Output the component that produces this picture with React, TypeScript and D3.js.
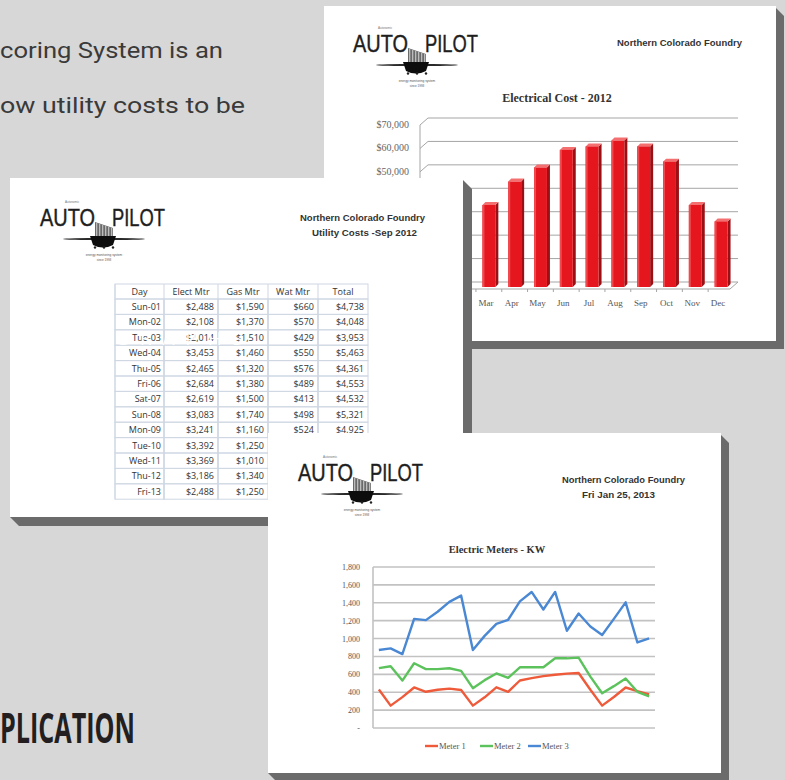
import React from 'react';
import * as d3 from 'd3';

// ---------- DATA ----------
const months = ['Mar', 'Apr', 'May', 'Jun', 'Jul', 'Aug', 'Sep', 'Oct', 'Nov', 'Dec'];
const electricCost = [35000, 45000, 51000, 58500, 60000, 62500, 60000, 53500, 35000, 28000];
const costTicks = [0, 10000, 20000, 30000, 40000, 50000, 60000, 70000];

const tableHeaders = ['Day', 'Elect Mtr', 'Gas Mtr', 'Wat Mtr', 'Total'];
const days = ['Sun-01', 'Mon-02', 'Tue-03', 'Wed-04', 'Thu-05', 'Fri-06', 'Sat-07', 'Sun-08', 'Mon-09', 'Tue-10', 'Wed-11', 'Thu-12', 'Fri-13'];
const electMtr = [2488, 2108, 2014, 3453, 2465, 2684, 2619, 3083, 3241, 3392, 3369, 3186, 2488];
const gasMtr = [1590, 1370, 1510, 1460, 1320, 1380, 1500, 1740, 1160, 1250, 1010, 1340, 1250];
const watMtr = [660, 570, 429, 550, 576, 489, 413, 498, 524];
const totals = [4738, 4048, 3953, 5463, 4361, 4553, 4532, 5321, 4925];

const meter1 = [430, 250, 345, 453, 405, 427, 440, 425, 250, 343, 455, 405, 531, 557, 580, 595, 608, 615, 427, 250, 347, 453, 412, 375];
const meter2 = [670, 690, 530, 724, 658, 658, 668, 638, 445, 535, 610, 560, 679, 679, 679, 779, 779, 787, 575, 388, 468, 553, 405, 353];
const meter3 = [872, 890, 826, 1220, 1206, 1300, 1410, 1480, 872, 1030, 1165, 1210, 1415, 1521, 1325, 1521, 1087, 1280, 1135, 1039, 1220, 1405, 957, 1002];
const meterNames = ['Meter 1', 'Meter 2', 'Meter 3'];
const meterColors = ['#ee5a3a', '#5cc25c', '#4a88d4'];
const kwTicks = [0, 200, 400, 600, 800, 1000, 1200, 1400, 1600, 1800];

const SANS = 'Liberation Sans, Arial, sans-serif';
const SERIF = 'Liberation Serif, Times New Roman, serif';
const CARD_B_TOP = 178;

// ---------- PIECES ----------
function Card({ x0, y0, x1, y1, d }: { x0: number; y0: number; x1: number; y1: number; d: number }) {
  const shadow = `${x1},${y0 + 2} ${x1 + d},${y0 + 2 + d} ${x1 + d},${y1 + d} ${x0 + d},${y1 + d} ${x0},${y1}`;
  return (
    <g>
      <polygon points={shadow} fill="#6b6b6b" />
      <rect x={x0} y={y0} width={x1 - x0} height={y1 - y0} fill="#ffffff" />
    </g>
  );
}

function Logo({ x, y }: { x: number; y: number }) {
  const stripes = d3.range(0, 18, 3);
  return (
    <g transform={`translate(${x},${y})`}>
      <text x={25} y={-23} fontFamily={SANS} fontSize={3} fill="#777">Autonomic</text>
      <text x={0} y={0} fontFamily={SANS} fontSize={23} textLength={55} lengthAdjust="spacingAndGlyphs" fill="#1e1e1e" stroke="#1e1e1e" strokeWidth={0.4}>AUTO</text>
      <polygon points="55,-4 73,2 73,12 55,12" fill="#6a6a6a" />
      {stripes.map((s) => (
        <rect key={s} x={56 + s} y={-3 + s / 3} width={1.3} height={14 - s / 3} fill="#bcbcbc" />
      ))}
      <text x={72} y={0} fontFamily={SANS} fontSize={23} textLength={53} lengthAdjust="spacingAndGlyphs" fill="#1e1e1e" stroke="#1e1e1e" strokeWidth={0.4}>PILOT</text>
      <ellipse cx={64} cy={13} rx={41} ry={1.1} fill="#2a2a2a" />
      <path d="M50,10 L76,10 L73,19 Q63,24 53,19 Z" fill="#0d0d0d" />
      <circle cx={55} cy={21.5} r={1.2} fill="#222" />
      <circle cx={64} cy={21.5} r={1.2} fill="#222" />
      <circle cx={73} cy={21.5} r={1.2} fill="#222" />
      <text x={64} y={30} textAnchor="middle" fontFamily={SANS} fontSize={3.2} fill="#555">energy monitoring system</text>
      <text x={64} y={35} textAnchor="middle" fontFamily={SANS} fontSize={3} fill="#555">since 1993</text>
    </g>
  );
}

function BarChart() {
  const yBack = d3.scaleLinear().domain([0, 70000]).range([282, 118]);
  const x = d3.scaleBand().domain(months).range([476, 734]).paddingInner(0.5).paddingOuter(0.25);
  const dx = -8, dy = 7;
  const fmt = d3.format('$,');
  const bw = x.bandwidth();
  return (
    <g>
      <text x={557} y={102} textAnchor="middle" fontFamily={SERIF} fontWeight={700} fontSize={12} fill="#333">Electrical Cost - 2012</text>
      {costTicks.map((v) => (
        <g key={v}>
          <line x1={428} x2={738} y1={yBack(v)} y2={yBack(v)} stroke="#a5a5a5" strokeWidth={1} />
          <line x1={428 + dx} x2={428} y1={yBack(v) + dy} y2={yBack(v)} stroke="#a5a5a5" strokeWidth={1} />
          {yBack(v) + dy + 3 < CARD_B_TOP ? (
            <text x={409} y={yBack(v) + dy + 3} textAnchor="end" fontFamily={SERIF} fontSize={10} fill="#666">{fmt(v)}</text>
          ) : null}
        </g>
      ))}
      <line x1={428 + dx} x2={428 + dx} y1={yBack(70000) + dy} y2={yBack(0) + dy} stroke="#a5a5a5" />
      <line x1={428 + dx} x2={738 + dx} y1={yBack(0) + dy} y2={yBack(0) + dy} stroke="#a5a5a5" />
      <line x1={738 + dx} x2={738} y1={yBack(0) + dy} y2={yBack(0)} stroke="#a5a5a5" />
      {months.map((m, i) => {
        const x0 = (x(m) as number);
        const x1 = x0 + bw;
        const top = yBack(electricCost[i]) + 5;
        const bottom = yBack(0) + 5;
        return (
          <g key={m}>
            <line x1={x0 - 6.5} x2={x0 - 6.5} y1={yBack(0) + dy} y2={yBack(0) + dy + 3} stroke="#a5a5a5" />
            <polygon points={`${x1},${top} ${x1 + 3},${top - 3} ${x1 + 3},${bottom - 3} ${x1},${bottom}`} fill="#9a1015" />
            <polygon points={`${x0},${top} ${x0 + 3},${top - 3} ${x1 + 3},${top - 3} ${x1},${top}`} fill="#f47070" />
            <rect x={x0} y={top} width={bw} height={bottom - top} fill="#e5161d" />
            <rect x={x0} y={top} width={2} height={bottom - top} fill="#f0494e" />
            <text x={x0 + bw / 2 - 3} y={306} textAnchor="middle" fontFamily={SERIF} fontSize={9} fill="#555">{m}</text>
          </g>
        );
      })}
    </g>
  );
}

function Table() {
  const colX = [115, 164, 218, 268, 318, 368];
  const top = 284, headH = 15, rowH = 15.4;
  const money = d3.format('$,');
  const cols = [electMtr, gasMtr, watMtr, totals];
  return (
    <g fontFamily="Open Sans, Liberation Sans, sans-serif" fontSize={9} fill="#333">
      <rect x={colX[0]} y={top} width={colX[5] - colX[0]} height={headH} fill="#ffffff" stroke="#cfd7e3" />
      {tableHeaders.map((h, j) => (
        <text key={h} x={(colX[j] + colX[j + 1]) / 2} y={top + 11} textAnchor="middle">{h}</text>
      ))}
      {days.map((d, i) => {
        const y0 = top + headH + i * rowH;
        return (
          <g key={d}>
            {colX.slice(0, 5).map((cx, j) => {
              const has = j < 3 || i < watMtr.length;
              return has ? (
                <rect key={j} x={cx} y={y0} width={colX[j + 1] - cx} height={rowH} fill="none" stroke="#cfd7e3" strokeWidth={1} />
              ) : null;
            })}
            <text x={colX[1] - 3} y={y0 + 11} textAnchor="end">{d}</text>
            {cols.map((c, j) =>
              i < c.length ? (
                <text key={j} x={colX[j + 2] - 4} y={y0 + 11} textAnchor="end">{money(c[i])}</text>
              ) : null
            )}
          </g>
        );
      })}
      {colX.slice(0, 5).map((cx, j) => (
        <line key={j} x1={cx} x2={cx} y1={top} y2={top + headH + (j < 3 ? days.length : watMtr.length) * rowH} stroke="#cfd7e3" />
      ))}
    </g>
  );
}

function LineChart() {
  const idx = d3.range(meter1.length);
  const x = d3.scalePoint<number>().domain(idx).range([373, 655]).padding(0.5);
  const y = d3.scaleLinear().domain([0, 1800]).range([728, 567]);
  const fmt = d3.format(',');
  const line = d3.line<number>().x((_, i) => x(i) as number).y((v) => y(v));
  const series = [meter1, meter2, meter3];
  const legendX = [425, 480, 528];
  return (
    <g>
      <text x={497} y={553} textAnchor="middle" fontFamily={SERIF} fontWeight={700} fontSize={10.5} fill="#333">Electric Meters - KW</text>
      {kwTicks.map((v) => (
        <g key={v}>
          <line x1={373} x2={655} y1={y(v)} y2={y(v)} stroke="#c2c2c2" strokeWidth={1.6} />
          <text x={360} y={y(v) + 3} textAnchor="end" fontFamily={SERIF} fontSize={8} fill="#555">{v === 0 ? '-' : fmt(v)}</text>
        </g>
      ))}
      <line x1={373} x2={373} y1={y(1800)} y2={y(0)} stroke="#c2c2c2" strokeWidth={1.6} />
      {series.map((s, k) => (
        <path key={k} d={line(s) as string} fill="none" stroke={meterColors[k]} strokeWidth={2.4} strokeLinejoin="round" />
      ))}
      {meterNames.map((n, k) => (
        <g key={n}>
          <line x1={legendX[k]} x2={legendX[k] + 13} y1={746} y2={746} stroke={meterColors[k]} strokeWidth={2.4} />
          <text x={legendX[k] + 14} y={749} fontFamily={SERIF} fontSize={8.5} fill="#555">{n}</text>
        </g>
      ))}
    </g>
  );
}

export default function App() {
  return (
    <svg width={785} height={780} style={{ position: 'fixed', left: 0, top: 0 }}>
      <rect x={0} y={0} width={785} height={780} fill="#d7d7d7" />
      <text x={0} y={58} fontFamily="Roboto, sans-serif" fontSize={22} fill="#3a3a3a" textLength={223} lengthAdjust="spacingAndGlyphs">coring System is an</text>
      <text x={0} y={113} fontFamily="Roboto, sans-serif" fontSize={22} fill="#3a3a3a" textLength={245} lengthAdjust="spacingAndGlyphs">ow utility costs to be</text>
      <text x={0} y={743} fontFamily="Open Sans, sans-serif" fontWeight={700} fontSize={41} fill="#231f20" textLength={135} lengthAdjust="spacingAndGlyphs">PLICATION</text>

      {/* Card A: electrical cost */}
      <Card x0={324} y0={6} x1={776} y1={341} d={8} />
      <Logo x={353} y={52} />
      <text x={617} y={46} fontFamily={SANS} fontWeight={700} fontSize={9} fill="#333" textLength={125} lengthAdjust="spacingAndGlyphs">Northern Colorado Foundry</text>
      <BarChart />

      {/* Card B: utility table */}
      <Card x0={10} y0={CARD_B_TOP} x1={463} y1={517} d={9} />
      <Logo x={40} y={226} />
      <text x={300} y={221} fontFamily={SANS} fontWeight={700} fontSize={9} fill="#333" textLength={125} lengthAdjust="spacingAndGlyphs">Northern Colorado Foundry</text>
      <text x={312} y={236} fontFamily={SANS} fontWeight={700} fontSize={9} fill="#333" textLength={105} lengthAdjust="spacingAndGlyphs">Utility Costs -Sep 2012</text>
      <Table />
      <text x={115} y={345} fontFamily="Open Sans, sans-serif" fontSize={19} fill="#ffffff" opacity={0.95} textLength={128} lengthAdjust="spacing">GRAPHS</text>

      {/* Card C: electric meters */}
      <Card x0={268} y0={433} x1={721} y1={773} d={8} />
      <Logo x={298} y={481} />
      <text x={562} y={483} fontFamily={SANS} fontWeight={700} fontSize={9} fill="#333" textLength={123} lengthAdjust="spacingAndGlyphs">Northern Colorado Foundry</text>
      <text x={582} y={498} fontFamily={SANS} fontWeight={700} fontSize={9} fill="#333" textLength={73} lengthAdjust="spacingAndGlyphs">Fri Jan 25, 2013</text>
      <LineChart />
    </svg>
  );
}
